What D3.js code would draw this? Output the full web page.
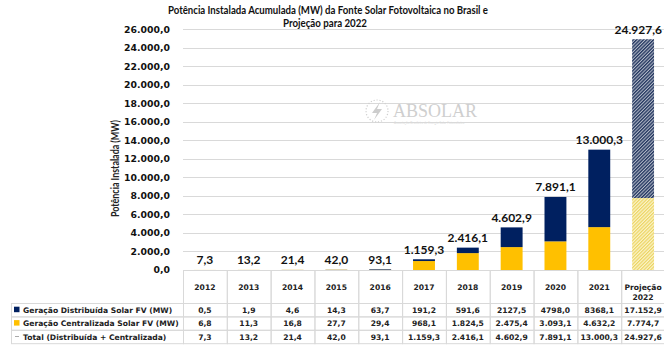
<!DOCTYPE html>
<html>
<head>
<meta charset="utf-8">
<script src="https://cdn.jsdelivr.net/npm/d3@7"></script>
<style>
  html, body { margin: 0; padding: 0; background: #fff; }
  svg { display: block; }
</style>
</head>
<body>
<svg id="chart" width="664" height="345"></svg>
<script>
// Potência instalada acumulada (MW) — geração distribuída + centralizada
const years = ["2012", "2013", "2014", "2015", "2016", "2017", "2018", "2019", "2020", "2021", "Projeção 2022"];
const distribuida = [0.5, 1.9, 4.6, 14.3, 63.7, 191.2, 591.6, 2127.5, 4798.0, 8368.1, 17152.9];
const centralizada = [6.8, 11.3, 16.8, 27.7, 29.4, 968.1, 1824.5, 2475.4, 3093.1, 4632.2, 7774.7];
const total = [7.3, 13.2, 21.4, 42.0, 93.1, 1159.3, 2416.1, 4602.9, 7891.1, 13000.3, 24927.6];
const projectedYear = "Projeção 2022";
const yTicks = [0, 2000, 4000, 6000, 8000, 10000, 12000, 14000, 16000, 18000, 20000, 22000, 24000, 26000];
const seriesNames = ["Geração Distribuída Solar FV (MW)", "Geração Centralizada Solar FV (MW)", "Total (Distribuída + Centralizada)"];

const NAVY = "#002060", GOLD = "#FFC000", GRID = "#d9d9d9";

const ptBR = d3.formatLocale({ decimal: ",", thousands: ".", grouping: [3], currency: ["R$", ""] });
const fmt = ptBR.format(",.1f");
const fmtPlain = ptBR.format(".1f");

const W = 664;
const svg = d3.select("#chart");
const defs = svg.append("defs");

// fine diagonal hatching for the projected year
function hatch(id, color, bg, w) {
  const p = defs.append("pattern").attr("id", id)
    .attr("patternUnits", "userSpaceOnUse").attr("width", 2.4).attr("height", 2.4)
    .attr("patternTransform", "rotate(45)");
  p.append("rect").attr("width", 2.4).attr("height", 2.4).attr("fill", bg);
  p.append("rect").attr("width", w).attr("height", 2.4).attr("fill", color);
}
hatch("hatchNavy", "#23365f", "#b3bac8", 1.35);
hatch("hatchGold", "#ecd460", "#fbf4cc", 1.2);

const plotLeft = 183, plotRight = 665, plotTop = 29.3, plotBottom = 270;

const x = d3.scaleBand().domain(years).range([plotLeft, plotRight]).paddingInner(0.5).paddingOuter(0.25);
const col = d3.scaleBand().domain(years).range([plotLeft, plotRight]).padding(0);
const y = d3.scaleLinear().domain([0, 26000]).range([plotBottom, plotTop]);

const font = "Lato, 'Open Sans', sans-serif";
const tfont = "'DejaVu Sans', Verdana, sans-serif";

// Title
const title = svg.append("text").attr("text-anchor", "middle")
  .attr("font-family", font).attr("font-weight", 700).attr("font-size", 10.8).attr("fill", "#111");
title.append("tspan").attr("x", 328).attr("y", 14)
  .attr("textLength", 320).attr("lengthAdjust", "spacingAndGlyphs")
  .text("Potência Instalada Acumulada (MW) da Fonte Solar Fotovoltaica no Brasil e");
title.append("tspan").attr("x", 325).attr("y", 27)
  .attr("textLength", 84).attr("lengthAdjust", "spacingAndGlyphs")
  .text("Projeção para 2022");

// Gridlines
svg.append("g").selectAll("line").data(yTicks.filter(d => d > 0)).join("line")
  .attr("x1", plotLeft).attr("x2", plotRight)
  .attr("y1", d => Math.round(y(d)) + 0.5).attr("y2", d => Math.round(y(d)) + 0.5)
  .attr("stroke", GRID).attr("stroke-width", 1);

// Y axis (labels only)
const yAxis = d3.axisLeft(y).tickValues(yTicks).tickSize(0).tickPadding(0).tickFormat(fmt);
const gy = svg.append("g").attr("transform", `translate(170,0)`).call(yAxis);
gy.select(".domain").remove();
gy.selectAll("text").attr("font-family", tfont).attr("font-weight", 700)
  .attr("font-size", 9.3).attr("fill", "#111");

// Y axis title
svg.append("text").attr("transform", `translate(119,168.5) rotate(-90)`)
  .attr("text-anchor", "middle").attr("font-family", font).attr("font-weight", 700)
  .attr("font-size", 10.5).attr("fill", "#222")
  .attr("textLength", 97).attr("lengthAdjust", "spacingAndGlyphs")
  .text("Potência Instalada (MW)");

// Watermark logo
const logo = svg.append("g").attr("transform", "translate(377,111)");
logo.append("circle").attr("r", 11).attr("fill", "none").attr("stroke", "#cfcfcf")
  .attr("stroke-width", 1.2).attr("stroke-dasharray", "1.2 1.8");
logo.append("path").attr("d", "M3,-9 L-5,2 L0,2 L-3,9 L5,-2 L0,-2 Z").attr("fill", "#cdcdcd");
logo.append("text").attr("x", 16).attr("y", 6).attr("font-family", "'Liberation Serif', serif")
  .attr("font-size", 18).attr("fill", "#cfcfcf").text("ABSOLAR");
logo.append("text").attr("x", 17).attr("y", 12.5).attr("font-family", font)
  .attr("font-size", 3.2).attr("fill", "#dadada")
  .text("Associação Brasileira de Energia Solar Fotovoltaica");

// Stacked bars
const stackData = years.map((yr, i) => ({ year: yr, centralizada: centralizada[i], distribuida: distribuida[i] }));
const stack = d3.stack().keys(["centralizada", "distribuida"])(stackData);
const fills = {
  centralizada: d => d.data.year === projectedYear ? "url(#hatchGold)" : GOLD,
  distribuida: d => d.data.year === projectedYear ? "url(#hatchNavy)" : NAVY
};
svg.append("g").selectAll("g").data(stack).join("g")
  .each(function (layer) {
    d3.select(this).selectAll("rect").data(layer).join("rect")
      .attr("x", d => x(d.data.year))
      .attr("width", x.bandwidth())
      .attr("y", d => y(d[1]))
      .attr("height", d => Math.max(0, y(d[0]) - y(d[1])))
      .attr("fill", fills[layer.key]);
  });

// Total labels (kept inside the canvas at the right edge)
svg.append("g").selectAll("text").data(years).join("text")
  .attr("y", (d, i) => y(total[i]) - 5.5)
  .attr("text-anchor", "middle").attr("font-family", font).attr("font-weight", 700)
  .attr("font-size", 12).attr("fill", "#111")
  .text((d, i) => fmt(total[i]))
  .attr("x", function (d) {
    const half = this.getComputedTextLength() / 2;
    return Math.min(x(d) + x.bandwidth() / 2, W - 2 - half);
  });

// Data table
const rowTop = 303, rowH = 13.4, headTop = 270, tableLeft = 11;
const tg = svg.append("g").attr("font-family", tfont).attr("font-weight", 700).attr("fill", "#222");
const grid = tg.append("g").attr("stroke", GRID).attr("stroke-width", 1).attr("fill", "none");
years.forEach(yr => {
  grid.append("rect").attr("x", col(yr) + 0.5).attr("y", headTop + 0.5)
    .attr("width", col.bandwidth()).attr("height", rowTop - headTop);
});
for (let r = 0; r < 3; r++) {
  grid.append("rect").attr("x", tableLeft + 0.5).attr("y", rowTop + r * rowH + 0.5)
    .attr("width", plotLeft - tableLeft).attr("height", rowH);
  years.forEach(yr => {
    grid.append("rect").attr("x", col(yr) + 0.5).attr("y", rowTop + r * rowH + 0.5)
      .attr("width", col.bandwidth()).attr("height", rowH);
  });
}
years.forEach(yr => {
  const cx = col(yr) + col.bandwidth() / 2;
  const parts = yr.split(" ");
  const t = tg.append("text").attr("text-anchor", "middle").attr("font-size", 7.6);
  parts.forEach((p, k) => t.append("tspan").attr("x", cx).attr("y", 290 + k * 10).text(p));
});
const keyDraw = [
  g => g.append("rect").attr("x", 14).attr("y", -3).attr("width", 5.5).attr("height", 5.5).attr("fill", NAVY),
  g => g.append("rect").attr("x", 14).attr("y", -3).attr("width", 5.5).attr("height", 5.5).attr("fill", GOLD),
  g => g.append("line").attr("x1", 15).attr("x2", 19).attr("y1", 0).attr("y2", 0).attr("stroke", "#aaa")
];
const rows = [
  distribuida.map(v => v >= 10000 ? fmt(v) : fmtPlain(v)),
  centralizada.map(v => fmt(v)),
  total.map(v => fmt(v))
];
seriesNames.forEach((name, r) => {
  const cy = rowTop + r * rowH + rowH / 2;
  const g = tg.append("g").attr("transform", `translate(0,${cy})`);
  keyDraw[r](g);
  g.append("text").attr("x", 23).attr("y", 3).attr("font-size", 7.6).text(name);
  rows[r].forEach((s, i) => {
    g.append("text").attr("x", col(years[i]) + col.bandwidth() / 2).attr("y", 3)
      .attr("text-anchor", "middle").attr("font-size", 7.6).text(s);
  });
});
</script>
</body>
</html>
